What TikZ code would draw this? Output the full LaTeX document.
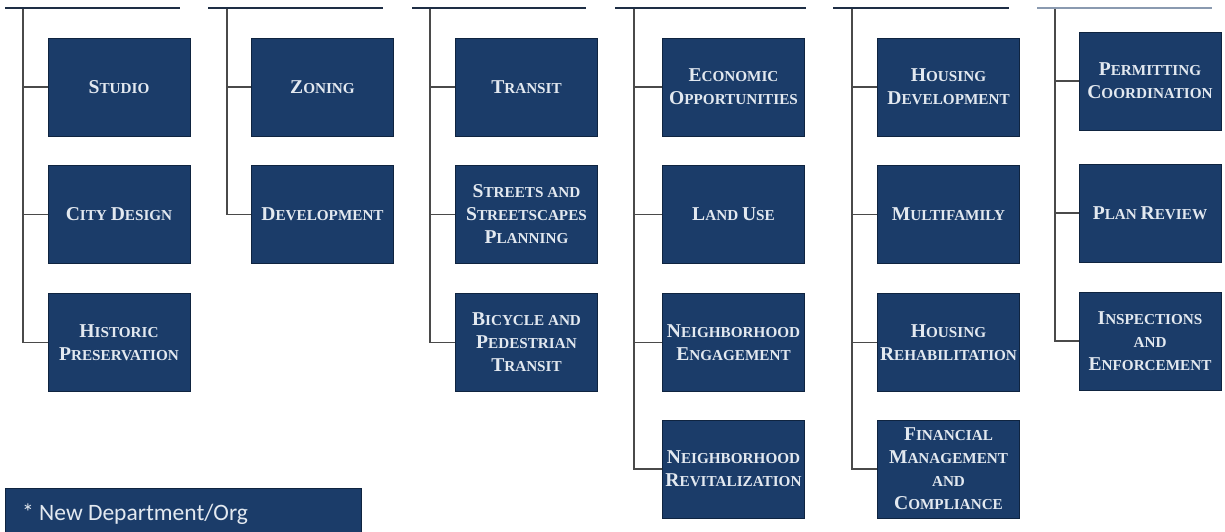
\documentclass[tikz,border=0pt]{standalone}
\usepackage{fontspec}
\setmainfont{Liberation Serif}
\newfontfamily\legendfont{Carlito}
\definecolor{boxfill}{HTML}{1B3C69}
\definecolor{boxborder}{HTML}{0F2440}
\definecolor{boxtext}{HTML}{E3E9F0}
\definecolor{topline}{HTML}{1E2E45}
\definecolor{connline}{HTML}{4A4A4A}
\definecolor{lastline}{HTML}{8A9AB0}
\newcommand\Bg[1]{{\fontsize{19.6}{23}\selectfont #1}}
\newcommand\scbase{\bfseries\fontsize{15.2}{23}\selectfont}
\tikzset{
  orgbox/.style={draw=boxborder, line width=0.8pt, fill=boxfill, minimum width=142pt, minimum height=98pt,
    inner sep=0pt, align=center, text=boxtext, font=\scbase},
  conn/.style={draw=connline, line width=1.4pt},
  topbar/.style={draw=topline, line width=2pt},
  lastbar/.style={draw=lastline, line width=1.2pt}
}
\begin{document}
\begin{tikzpicture}[x=1pt,y=-1pt]
\useasboundingbox (0,0) rectangle (1225,531);
% top bars
\coordinate (a1) at (5,8);   \coordinate (b1) at (180,8);
\coordinate (a2) at (208,8); \coordinate (b2) at (383,8);
\coordinate (a3) at (412,8); \coordinate (b3) at (586,8);
\coordinate (a4) at (615,8); \coordinate (b4) at (806,8);
\coordinate (a5) at (833,8); \coordinate (b5) at (1009,8);
\coordinate (a6) at (1037,8); \coordinate (b6) at (1212,8);
\coordinate (t1) at (23,8);
\coordinate (t2) at (227,8);
\coordinate (t3) at (430,8);
\coordinate (t4) at (634,8);
\coordinate (t5) at (852,8);
\coordinate (t6) at (1055,8);
% column 1
\node[orgbox] (studio) at (119,87) {\Bg{S}TUDIO};
\node[orgbox] (citydesign) at (119,214.5) {\Bg{C}ITY \Bg{D}ESIGN};
\node[orgbox] (historic) at (119,342.5) {\Bg{H}ISTORIC\\\Bg{P}RESERVATION};
% column 2
\node[orgbox] (zoning) at (322.5,87) {\Bg{Z}ONING};
\node[orgbox] (development) at (322.5,214.5) {\Bg{D}EVELOPMENT};
% column 3
\node[orgbox] (transit) at (526.5,87) {\Bg{T}RANSIT};
\node[orgbox] (streets) at (526.5,214.5) {\Bg{S}TREETS AND\\\Bg{S}TREETSCAPES\\\Bg{P}LANNING};
\node[orgbox] (bicycle) at (526.5,342.5) {\Bg{B}ICYCLE AND\\\Bg{P}EDESTRIAN\\\Bg{T}RANSIT};
% column 4
\node[orgbox] (economic) at (733.5,87) {\Bg{E}CONOMIC\\\Bg{O}PPORTUNITIES};
\node[orgbox] (landuse) at (733.5,214.5) {\Bg{L}AND \Bg{U}SE};
\node[orgbox] (engagement) at (733.5,342.5) {\Bg{N}EIGHBORHOOD\\\Bg{E}NGAGEMENT};
\node[orgbox] (revital) at (733.5,469) {\Bg{N}EIGHBORHOOD\\\Bg{R}EVITALIZATION};
% column 5
\node[orgbox] (housingdev) at (948.5,87) {\Bg{H}OUSING\\\Bg{D}EVELOPMENT};
\node[orgbox] (multifamily) at (948.5,214.5) {\Bg{M}ULTIFAMILY};
\node[orgbox] (rehab) at (948.5,342.5) {\Bg{H}OUSING\\\Bg{R}EHABILITATION};
\node[orgbox] (financial) at (948.5,469) {\Bg{F}INANCIAL\\\Bg{M}ANAGEMENT\\AND\\\Bg{C}OMPLIANCE};
% column 6
\node[orgbox] (permitting) at (1150,81) {\Bg{P}ERMITTING\\\Bg{C}OORDINATION};
\node[orgbox] (planreview) at (1150,213) {\Bg{P}LAN \Bg{R}EVIEW};
\node[orgbox] (inspections) at (1150,341) {\Bg{I}NSPECTIONS\\AND\\\Bg{E}NFORCEMENT};
% legend
\node[draw=boxborder, line width=0.8pt, fill=boxfill, minimum width=356pt, minimum height=50pt, inner sep=0pt,
  anchor=north west, text=boxtext] (legend) at (5,488) {};
\node[anchor=base west, text=boxtext, font=\legendfont\fontsize{23.5}{26}\selectfont, inner sep=0pt] (legendtext) at (22,520) {* New Department/Org};
% connectors
\draw[conn] (t1) |- (studio.west);
\draw[conn] (t1) |- (citydesign.west);
\draw[conn] (t1) |- (historic.west);
\draw[conn] (t2) |- (zoning.west);
\draw[conn] (t2) |- (development.west);
\draw[conn] (t3) |- (transit.west);
\draw[conn] (t3) |- (streets.west);
\draw[conn] (t3) |- (bicycle.west);
\draw[conn] (t4) |- (economic.west);
\draw[conn] (t4) |- (landuse.west);
\draw[conn] (t4) |- (engagement.west);
\draw[conn] (t4) |- (revital.west);
\draw[conn] (t5) |- (housingdev.west);
\draw[conn] (t5) |- (multifamily.west);
\draw[conn] (t5) |- (rehab.west);
\draw[conn] (t5) |- (financial.west);
\draw[conn] (t6) |- (permitting.west);
\draw[conn] (t6) |- (planreview.west);
\draw[conn] (t6) |- (inspections.west);
% top bars
\draw[topbar] (a1) -- (b1);
\draw[topbar] (a2) -- (b2);
\draw[topbar] (a3) -- (b3);
\draw[topbar] (a4) -- (b4);
\draw[topbar] (a5) -- (b5);
\draw[lastbar] (a6) -- (b6);
\end{tikzpicture}
\end{document}
